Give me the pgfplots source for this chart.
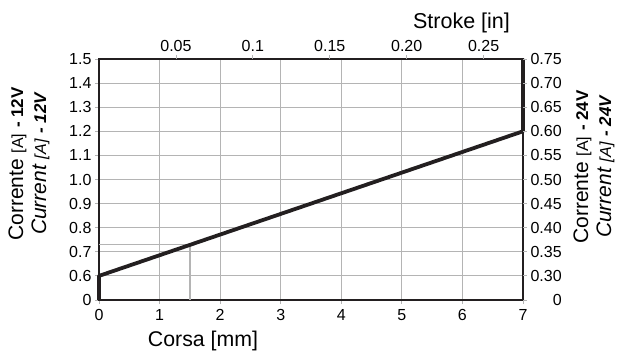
\documentclass[border=0pt]{standalone}
\usepackage{fontspec}
\setmainfont{Liberation Sans}
\usepackage{pgfplots}
\pgfplotsset{compat=1.18}
\definecolor{gridc}{HTML}{B4B4B4}
\definecolor{linec}{HTML}{231F20}
\begin{document}
\begin{tikzpicture}
\pgfplotsset{
  myy/.style={
    y coord trafo/.code={\pgfmathparse{ifthenelse(##1<0.6,##1/0.6,(##1-0.5)*10)}},
    ymin=0, ymax=1.5,
    ytick={0,0.6,0.7,0.8,0.9,1.0,1.1,1.2,1.3,1.4,1.5},
  },
  common/.style={
    width=424pt, height=241pt, scale only axis,
    xmin=0, xmax=7,
    tick align=outside, major tick length=4pt,
    tick style={gridc, line width=0.8pt},
    ticklabel style={font=\fontsize{16}{18}\selectfont},
    /pgf/number format/assume math mode=true,
  },
}
% main axis
\begin{axis}[common, myy, name=ax,
  axis line style={linec, line width=1.8pt},
  grid=major, grid style={gridc, line width=0.8pt},
  xtick={0,1,2,3,4,5,6,7},
  xtick pos=left, ytick pos=left,
  xticklabel style={yshift=-2pt},
  yticklabels={0,0.6,0.7,0.8,0.9,1.0,1.1,1.2,1.3,1.4,1.5},
  clip=false]
\addplot[gridc, line width=1.3pt] coordinates {(0,0.73) (1.5,0.73) (1.5,0)};
\addplot[linec, line width=3.8pt, line join=round, line cap=butt] coordinates {(0,0) (0,0.6) (7,1.2) (7,1.5)};
\end{axis}
% right axis
\begin{axis}[common, myy,
  axis y line*=right, axis x line=none,
  axis line style={draw=none},
  yticklabels={0,0.30,0.35,0.40,0.45,0.50,0.55,0.60,0.65,0.70,0.75},
  yticklabel style={text width=31.2pt, align=right}]
\end{axis}
% top axis
\begin{axis}[common, xmin=0, xmax=0.2755906, ymin=0, ymax=1,
  axis x line*=top, axis y line=none,
  axis line style={draw=none},
  xtick={0.05,0.1,0.15,0.2,0.25},
  xticklabels={0.05,0.1,0.15,0.20,0.25}]
\end{axis}
% labels
\node[rotate=90, align=center, font=\fontsize{21}{23}\selectfont] at (-70pt,136pt)
  {Corrente {\fontsize{16}{16}\selectfont[A]} {\fontsize{17}{17}\selectfont\bfseries - 12V}\\
   \itshape Current {\fontsize{16}{16}\selectfont[A]} {\fontsize{17}{17}\selectfont\bfseries - 12V}};
\node[rotate=90, align=center, font=\fontsize{21}{23}\selectfont] at (495pt,133pt)
  {Corrente {\fontsize{16}{16}\selectfont[A]} {\fontsize{17}{17}\selectfont\bfseries - 24V}\\
   \itshape Current {\fontsize{16}{16}\selectfont[A]} {\fontsize{17}{17}\selectfont\bfseries - 24V}};
\node[anchor=base, font=\fontsize{21.5}{23}\selectfont, inner sep=0pt] at (362.5pt,271pt) {Stroke [in]};
\node[anchor=base, font=\fontsize{21.3}{23}\selectfont, inner sep=0pt] at (104pt,-46.5pt) {Corsa [mm]};
\pgfresetboundingbox
\path[use as bounding box] (-99pt,-51pt) rectangle (520pt,300pt);
\end{tikzpicture}
\end{document}
